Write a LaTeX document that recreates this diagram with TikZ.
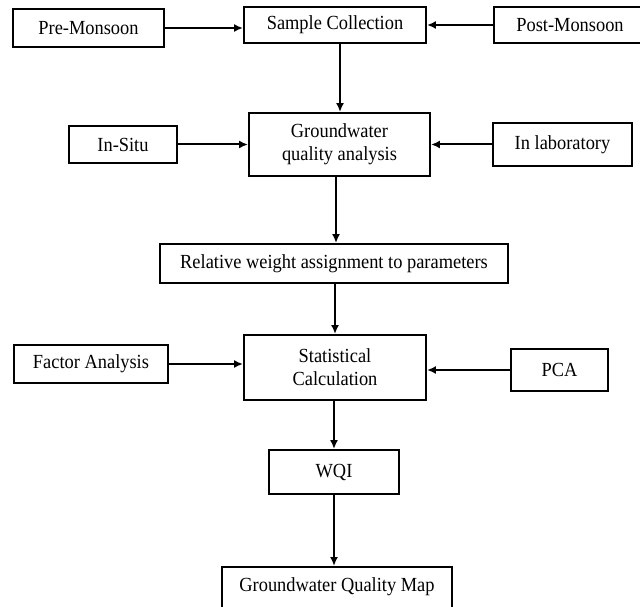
\documentclass[tikz,border=0pt]{standalone}
\usepackage{fontspec}
\setmainfont{Liberation Serif}[FakeStretch=0.92]
\usetikzlibrary{arrows.meta}
\begin{document}
\begin{tikzpicture}[x=1pt,y=-1pt,
  box/.style={draw=black, line width=1.9pt, inner sep=0pt, align=center,
    font=\fontsize{20}{23}\selectfont},
  arr/.style={line width=2pt, -{Latex[length=9pt,width=8pt]}}]
\useasboundingbox (0,0) rectangle (640,607);
\clip (0,0) rectangle (640,607);
\fill[white] (0,0) rectangle (640,607);
\node[box, minimum width=151, minimum height=38] (pre) at (88.5,28) {Pre-Monsoon};
\node[box, minimum width=182, minimum height=36] (sample) at (335,25) {Sample Collection};
\node[box, minimum width=152, minimum height=36] (post) at (570,25) {Post-Monsoon};
\node[box, minimum width=181, minimum height=63] (gw) at (339.5,144.5) {Groundwater\\quality analysis};
\node[box, minimum width=108, minimum height=37] (insitu) at (123,144.5) {In-Situ};
\node[box, minimum width=139, minimum height=43] (lab) at (562.5,144.5) {In laboratory};
\node[box, minimum width=348, minimum height=39] (rel) at (334,263.5) {Relative weight assignment to parameters};
\node[box, minimum width=182, minimum height=65] (stat) at (335,367.5) {Statistical\\Calculation};
\node[box, minimum width=154, minimum height=38] (factor) at (91,364) {Factor Analysis};
\node[box, minimum width=97, minimum height=42] (pca) at (559.5,370) {PCA};
\node[box, minimum width=130, minimum height=44] (wqi) at (334,472) {WQI};
\node[box, anchor=north, minimum width=230, text height=25pt, text depth=25pt] (gqm) at (337,566) {Groundwater Quality Map};
\coordinate (c1) at (340,0);
\coordinate (c2) at (336,0);
\draw[arr] (sample.south -| c1) -- (gw.north -| c1);
\draw[arr] (pre.east) -- (sample.west |- pre.east);
\draw[arr] (post.west) -- (sample.east |- post.west);
\draw[arr] (insitu.east) -- (gw.west |- insitu.east);
\draw[arr] (lab.west) -- (gw.east |- lab.west);
\draw[arr] (gw.south -| c2) -- (rel.north -| c2);
\draw[arr] (rel.south -| stat.north) -- (stat.north);
\draw[arr] (factor.east) -- (stat.west |- factor.east);
\draw[arr] (pca.west) -- (stat.east |- pca.west);
\draw[arr] (stat.south -| wqi.north) -- (wqi.north);
\draw[arr] (wqi.south) -- (gqm.north -| wqi.south);
\end{tikzpicture}
\end{document}
